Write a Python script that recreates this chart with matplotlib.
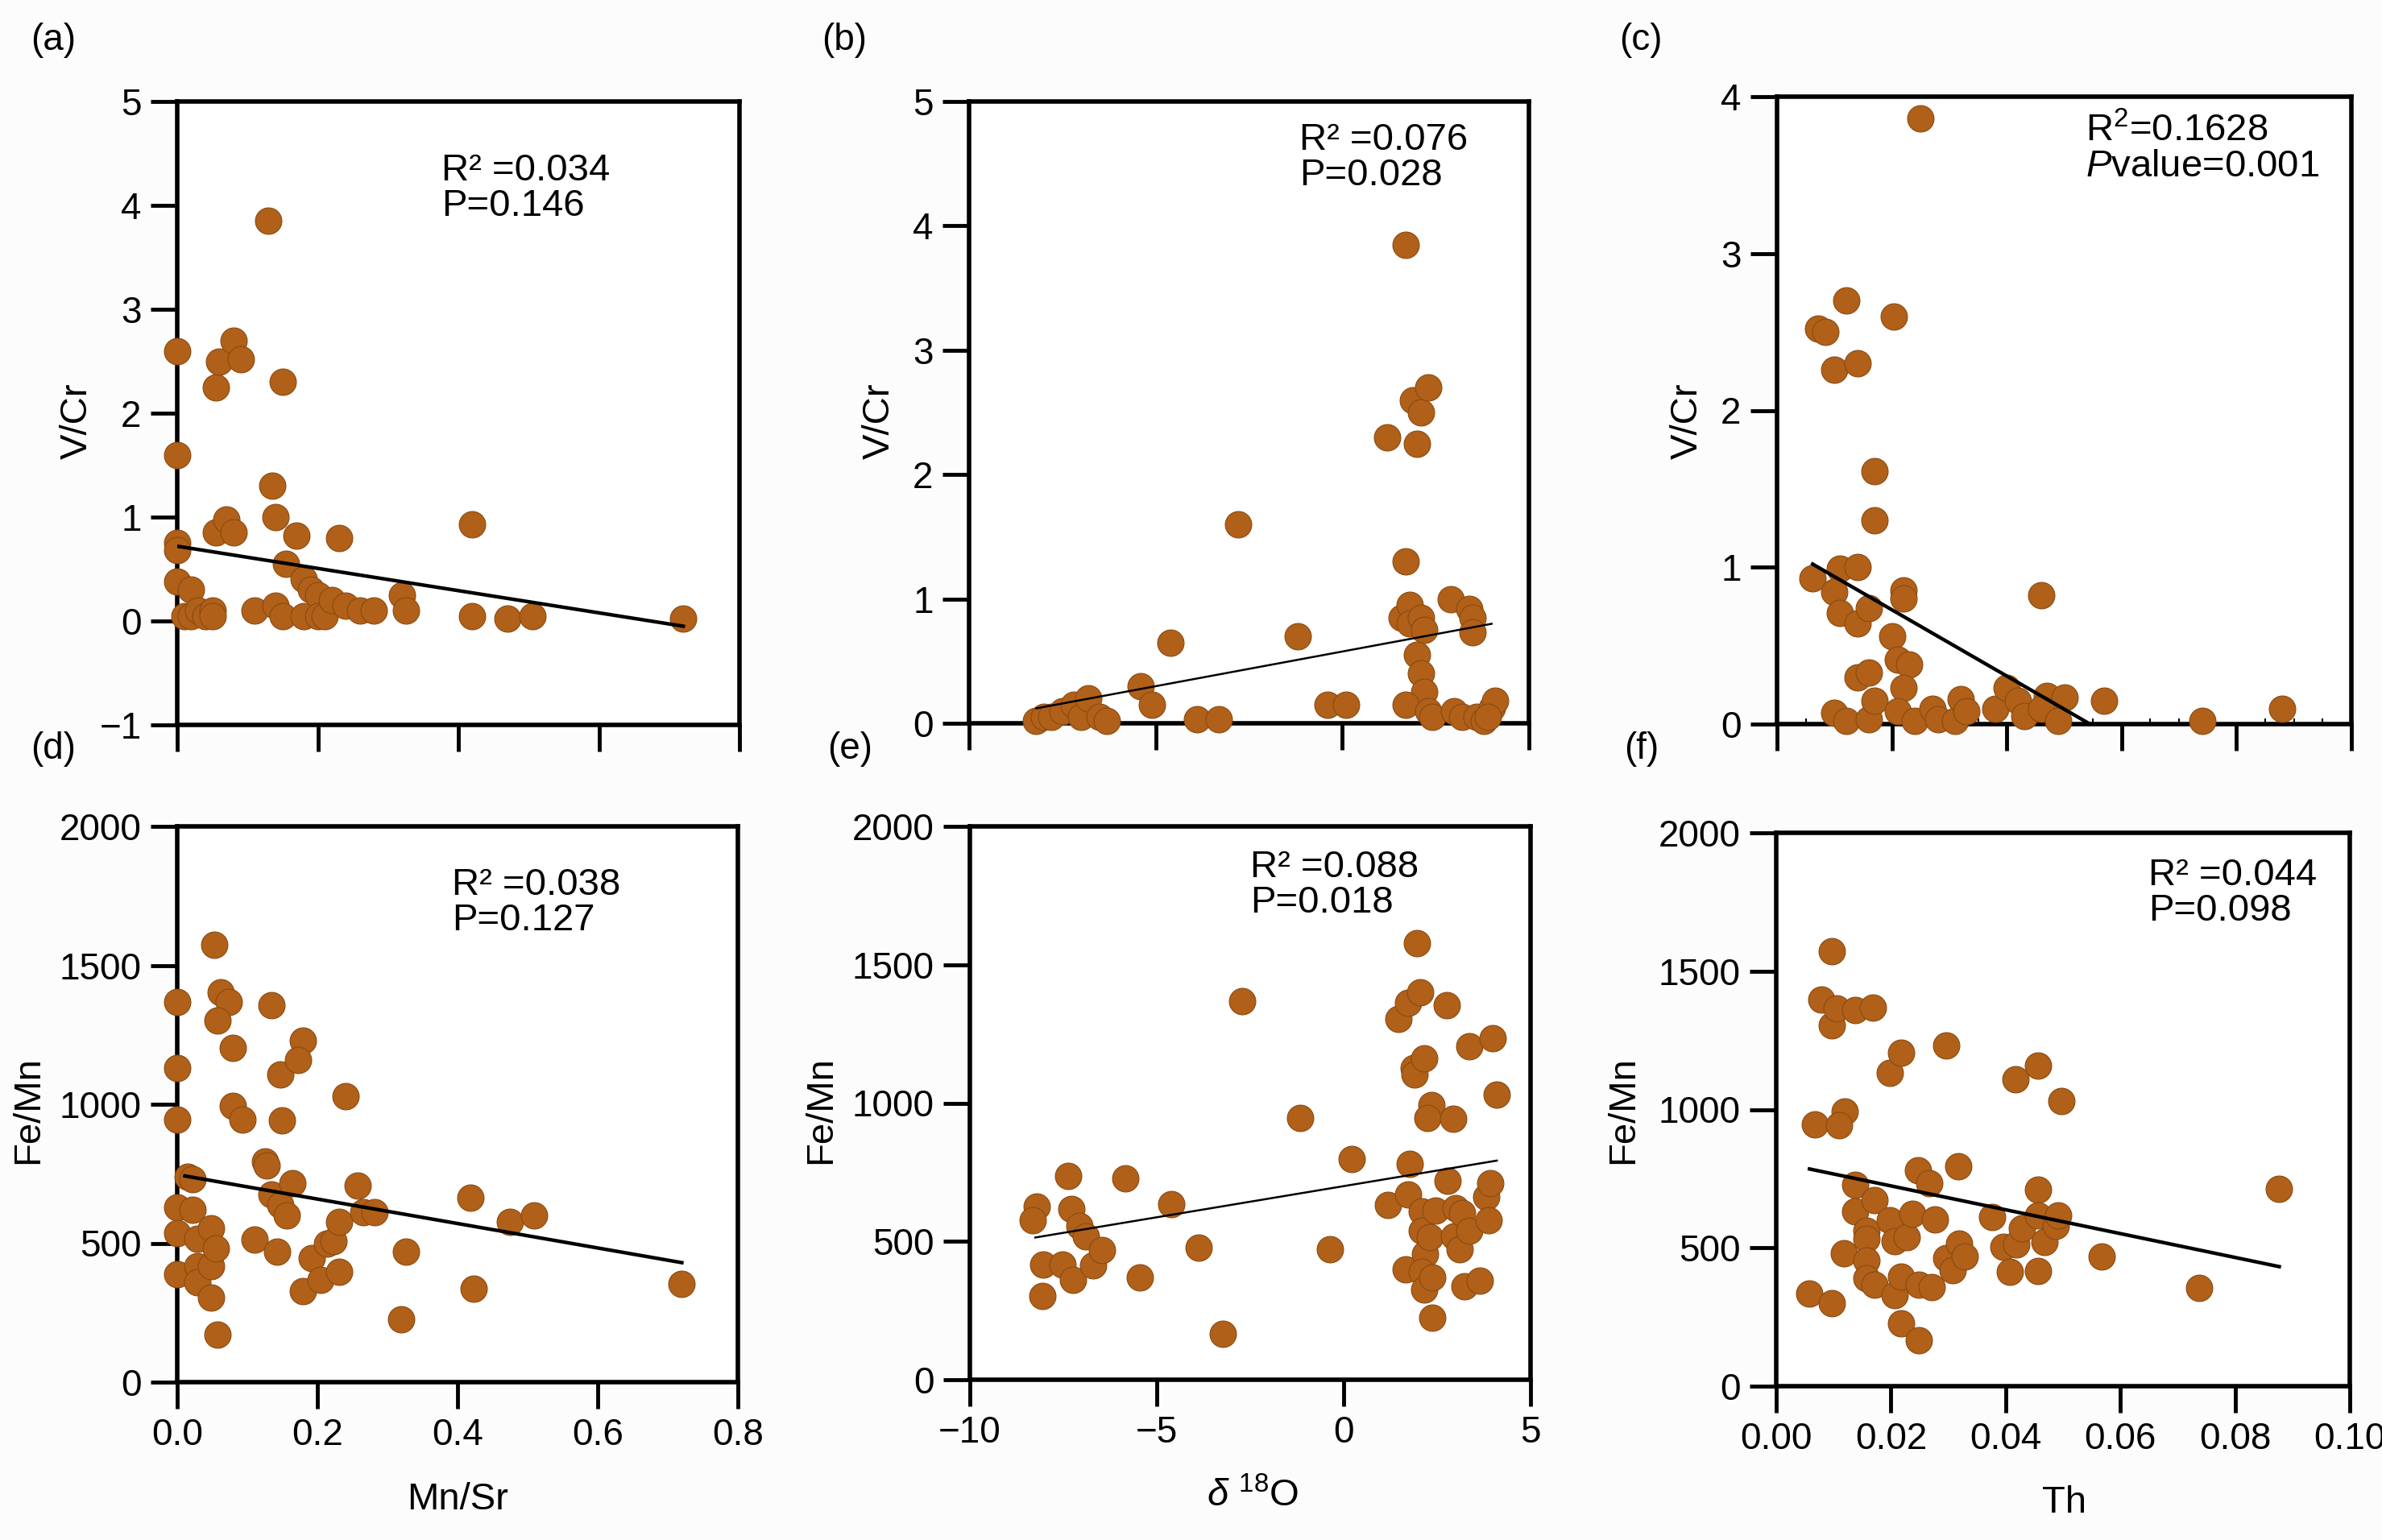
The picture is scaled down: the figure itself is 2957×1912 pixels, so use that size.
import matplotlib
matplotlib.use('Agg')
import matplotlib.pyplot as plt
import numpy as np

plt.rcParams['font.family'] = ['Liberation Sans', 'DejaVu Sans']
plt.rcParams['mathtext.fontset'] = 'custom'
plt.rcParams['mathtext.rm'] = 'Liberation Sans'
plt.rcParams['mathtext.it'] = 'Liberation Sans:italic'

# (a) Mn/Sr vs V/Cr
a_x = [0, 0, 0, 0, 0, 0.01, 0.02, 0.02, 0.03, 0.04, 0.05, 0.05, 0.055, 0.06, 0.08, 0.09,
       0.055, 0.07, 0.08, 0.13, 0.135, 0.14, 0.15, 0.155, 0.17, 0.18, 0.19, 0.11, 0.14, 0.15,
       0.18, 0.2, 0.2, 0.21, 0.22, 0.23, 0.24, 0.26, 0.28, 0.32, 0.325, 0.42, 0.42, 0.47, 0.505, 0.72]
a_y = [2.6, 1.6, 0.75, 0.68, 0.38, 0.05, 0.3, 0.05, 0.1, 0.05, 0.1, 0.05, 2.25, 2.5, 2.7, 2.52,
       0.85, 0.98, 0.85, 3.85, 1.3, 1.0, 2.3, 0.55, 0.82, 0.4, 0.3, 0.1, 0.15, 0.05,
       0.05, 0.25, 0.05, 0.05, 0.2, 0.8, 0.15, 0.1, 0.1, 0.25, 0.1, 0.93, 0.05, 0.02, 0.05, 0.02]
a_fit = ([0.0, 0.72], [0.72, -0.05])

# (b) d18O vs V/Cr
b_x = [-8.2, -8.0, -7.8, -7.5, -7.2, -7.0, -6.8, -6.5, -6.3, -5.4, -5.1, -4.6, -3.9, -3.3, -2.8,
       -1.2, -0.4, 0.1, 1.2, 1.6, 1.7, 1.8, 1.7, 1.9, 2.0, 2.1, 2.3, 1.8, 2.1, 2.2, 2.0, 2.1, 2.2,
       1.7, 2.3, 2.4, 2.9, 3.4, 3.5, 3.5, 3.0, 3.2, 3.6, 3.8, 4.0, 4.1, 3.9]
b_y = [0.02, 0.05, 0.05, 0.1, 0.15, 0.05, 0.2, 0.05, 0.02, 0.3, 0.15, 0.65, 0.03, 0.03, 1.6,
       0.7, 0.15, 0.15, 2.3, 0.85, 1.3, 0.95, 3.85, 2.6, 2.25, 2.5, 2.7, 0.8, 0.85, 0.75, 0.55, 0.4, 0.25,
       0.15, 0.1, 0.05, 1.0, 0.92, 0.85, 0.73, 0.1, 0.05, 0.05, 0.02, 0.12, 0.18, 0.05]
b_fit = ([-8.2, 4.0], [0.12, 0.8])

# (c) Th vs V/Cr
c_x = [0.0062, 0.0071, 0.0084, 0.010, 0.012, 0.014, 0.0203, 0.025, 0.017, 0.017, 0.011, 0.014,
       0.010, 0.011, 0.014, 0.016, 0.022, 0.022, 0.020, 0.021, 0.023, 0.014, 0.016, 0.022, 0.046,
       0.057, 0.074, 0.088, 0.010, 0.012, 0.016, 0.017, 0.021, 0.024, 0.027, 0.028, 0.031, 0.032,
       0.033, 0.038, 0.040, 0.042, 0.043, 0.047, 0.046, 0.050, 0.049]
c_y = [0.93, 2.52, 2.5, 2.26, 2.7, 2.3, 2.6, 3.86, 1.61, 1.3, 0.99, 1.0,
       0.84, 0.71, 0.64, 0.74, 0.85, 0.8, 0.56, 0.41, 0.38, 0.3, 0.33, 0.23, 0.82,
       0.15, 0.02, 0.1, 0.07, 0.02, 0.03, 0.15, 0.08, 0.02, 0.1, 0.03, 0.02, 0.16,
       0.08, 0.1, 0.23, 0.15, 0.05, 0.18, 0.1, 0.17, 0.02]
c_fit = ([0.0062, 0.0545], [1.02, 0.0])

# (d) Mn/Sr vs Fe/Mn
d_x = [0, 0, 0, 0, 0, 0, 0.015, 0.022, 0.022, 0.029, 0.029, 0.029, 0.048, 0.048, 0.048, 0.055,
       0.057, 0.053, 0.062, 0.073, 0.057, 0.079, 0.079, 0.093, 0.11, 0.125, 0.128, 0.134, 0.135,
       0.147, 0.149, 0.147, 0.156, 0.143, 0.164, 0.179, 0.172, 0.179, 0.192, 0.205, 0.214, 0.223,
       0.231, 0.231, 0.240, 0.258, 0.265, 0.282, 0.326, 0.319, 0.418, 0.423, 0.475, 0.509, 0.72]
d_y = [1367, 1130, 946, 628, 535, 388, 739, 730, 619, 517, 416, 360, 554, 416, 305, 480,
       170, 1575, 1404, 1367, 1302, 1204, 994, 946, 512, 794, 780, 674, 1357,
       1108, 942, 637, 600, 471, 715, 1228, 1158, 327, 447, 369, 499, 508,
       576, 397, 1029, 707, 613, 613, 471, 225, 665, 336, 576, 600, 355]
d_fit = ([0.011, 0.72], [742, 430])

# (e) d18O vs Fe/Mn
e_x = [-8.21, -8.31, -8.03, -8.07, -7.52, -7.36, -7.28, -7.25, -7.07, -6.9, -6.7, -6.46, -5.83,
       -5.46, -4.61, -3.88, -3.23, -2.71, -1.16, -0.37, 0.21, 1.18, 1.46, 1.67, 1.73, 1.76, 1.72,
       1.97, 2.04, 1.87, 1.9, 2.15, 2.08, 2.08, 2.17, 2.1, 2.15, 2.38, 2.38, 2.35, 2.24, 2.45, 2.31,
       2.76, 2.79, 2.93, 2.96, 3.0, 3.1, 3.23, 3.16, 3.37, 3.37, 3.65, 3.82, 3.93, 3.89, 3.99, 4.1]
e_y = [625, 575, 417, 302, 417, 736, 618, 362, 556, 519, 414, 469, 729,
       371, 634, 477, 167, 1367, 946, 473, 798, 631, 1304, 399, 1363, 779, 671,
       1577, 1400, 1126, 1104, 1163, 607, 538, 455, 390, 325, 371, 223, 992, 946, 612, 514,
       1354, 718, 942, 519, 621, 473, 338, 603, 538, 1206, 358, 662, 710, 575, 1233, 1030]
e_fit = ([-8.25, 4.1], [514, 792])

# (f) Th vs Fe/Mn
f_x = [0.0058, 0.0078, 0.0067, 0.0097, 0.0097, 0.0097, 0.0106, 0.012, 0.0109, 0.0118, 0.0138,
       0.0138, 0.0138, 0.0158, 0.0158, 0.0158, 0.0158, 0.0171, 0.0171, 0.0169, 0.0198, 0.0198,
       0.0207, 0.0207, 0.0218, 0.0218, 0.0218, 0.0228, 0.0238, 0.0247, 0.0249, 0.0249, 0.0267,
       0.0271, 0.0277, 0.0297, 0.0297, 0.0308, 0.0317, 0.0319, 0.0328, 0.0377, 0.0396, 0.0408,
       0.0417, 0.0419, 0.0428, 0.0457, 0.0457, 0.0457, 0.0457, 0.0468, 0.0488, 0.0491, 0.0497,
       0.0567, 0.0738, 0.0877]
f_y = [334, 1397, 946, 1573, 1304, 299, 1365, 994, 942, 479, 1360,
       729, 631, 562, 534, 454, 390, 673, 367, 1369, 1132, 599,
       525, 330, 1206, 395, 228, 538, 623, 779, 367, 167, 735,
       358, 603, 1230, 464, 419, 794, 516, 469, 612, 503, 414,
       1109, 512, 571, 1159, 710, 618, 417, 521, 580, 618, 1030,
       469, 354, 714]
f_fit = ([0.0058, 0.0877], [785, 432])

W, H = 2957, 1912
fig = plt.figure(figsize=(W / 100, H / 100), dpi=100, facecolor='#fcfcfc')


def box(l, r, t, b):
    return [l / W, 1 - b / H, (r - l) / W, (b - t) / H]


panels = [
    ('(a)', a_x, a_y, a_fit, box(220, 918, 126, 900), (0, 0.8), np.arange(0, 0.81, 0.2), (-1, 5), range(-1, 6), 3.2, False),
    ('(b)', b_x, b_y, b_fit, box(1203, 1898, 126, 898), (-10, 5), [-10, -5, 0, 5], (0, 5), range(0, 6), 1.8, False),
    ('(c)', c_x, c_y, c_fit, box(2206, 2919, 120, 899), (0, 0.10), np.arange(0, 0.101, 0.02), (0, 4), range(0, 5), 3.2, False),
    ('(d)', d_x, d_y, d_fit, box(220, 916, 1026, 1716), (0, 0.8), np.arange(0, 0.81, 0.2), (0, 2000), range(0, 2001, 500), 3.2, True),
    ('(e)', e_x, e_y, e_fit, box(1204, 1900, 1026, 1713), (-10, 5), [-10, -5, 0, 5], (0, 2000), range(0, 2001, 500), 1.8, True),
    ('(f)', f_x, f_y, f_fit, box(2205, 2917, 1034, 1721), (0, 0.10), np.arange(0, 0.101, 0.02), (0, 2000), range(0, 2001, 500), 3.2, True),
]
xfmt = {'(d)': '{:.1f}', '(e)': '{:.0f}', '(f)': '{:.2f}'}

for name, x, y, fit, pos, xl, xt, yl, yt, lw, lab in panels:
    ax = fig.add_axes(pos)
    ax.set_facecolor('white')
    ax.scatter(x, y, s=560, color='#b06018', edgecolors='#8a4a12', linewidths=0.8, zorder=3, clip_on=False)
    ax.plot(fit[0], fit[1], color='black', lw=lw, zorder=4)
    ax.set_xlim(*xl)
    ax.set_ylim(*yl)
    ax.set_xticks(xt)
    ax.set_yticks(list(yt))
    for s in ax.spines.values():
        s.set_linewidth(4)
    ax.tick_params(direction='out', length=24, width=3.5, labelsize=33, pad=8)
    if lab:
        ax.set_xticklabels([xfmt[name].format(v).replace('-', '\u2212') for v in xt])
    else:
        ax.set_xticklabels([])
    ax.set_yticklabels([str(v).replace('-', '\u2212') for v in yt])
    if name == '(c)':
        ax.set_xticks(np.arange(0, 0.101, 0.005), minor=True)
        ax.tick_params(which='minor', direction='in', length=5, width=1.5)

fs = 34
def ftext(px, py, s, **kw):
    fig.text(px / W, 1 - py / H, s, fontsize=kw.pop('fontsize', fs), **kw)

for lbl, px, py in [('(a)', 38, 50), ('(b)', 1020, 50), ('(c)', 2010, 50),
                    ('(d)', 38, 930), ('(e)', 1027, 930), ('(f)', 2016, 930)]:
    ftext(px, py, lbl, va='center', fontsize=33)

stats = [(548, 190, 'R\u00b2 =0.034\nP=0.146'),
         (1613, 152, 'R\u00b2 =0.076\nP=0.028'),
         (2589, 140, 'R$^2$=0.1628\n$\\mathit{P}$value=0.001'),
         (561, 1077, 'R\u00b2 =0.038\nP=0.127'),
         (1552, 1055, 'R\u00b2 =0.088\nP=0.018'),
         (2667, 1065, 'R\u00b2 =0.044\nP=0.098')]
for px, py, s in stats:
    ftext(px, py, s, va='top', linespacing=1.0)

for px, py in [(96, 523), (1092, 523), (2095, 523)]:
    ftext(px, py, 'V/Cr', rotation=90, ha='center', va='center')
for px, py in [(35, 1378), (1019, 1378), (2015, 1378)]:
    ftext(px, py, 'Fe/Mn', rotation=90, ha='center', va='center')
ftext(568, 1862, 'Mn/Sr', ha='center', va='center')
ftext(1555, 1858, '$\\delta$ $^{18}$O', ha='center', va='center')
ftext(2563, 1866, 'Th', ha='center', va='center')

fig.savefig('out.png', dpi=100, facecolor=fig.get_facecolor())
